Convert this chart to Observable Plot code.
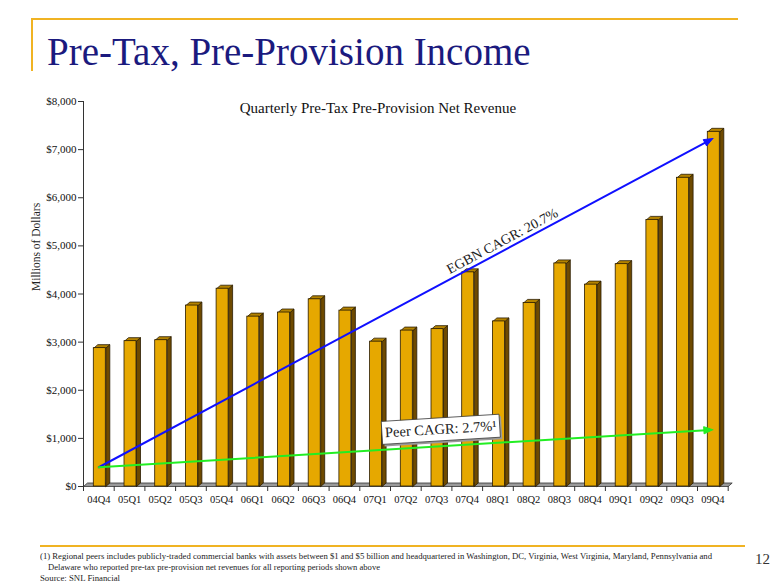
<!DOCTYPE html>
<html><head><meta charset="utf-8">
<script src="https://cdn.jsdelivr.net/npm/d3@7"></script>
<script src="https://cdn.jsdelivr.net/npm/@observablehq/plot@0.6"></script>
<style>
body{margin:0;background:#fff;font-family:"Liberation Serif","Times New Roman",serif;}
#page{position:relative;width:780px;height:585px;overflow:hidden;background:#fff;}
#header{position:relative;height:80px;}
#header .hl{position:absolute;left:31px;top:18px;width:707px;height:2px;background:#F0B323;}
#header .vl{position:absolute;left:31px;top:18px;width:2px;height:53px;background:#F0B323;}
#title{position:absolute;left:47px;top:32px;font-size:39px;line-height:1;color:#1b1a7e;white-space:nowrap;}
#chart{height:460px;}
#footer{position:relative;height:45px;}
#footer .hl{position:absolute;left:40px;top:5px;width:705px;height:2px;background:#F0B323;}
.note{position:absolute;font-size:9px;line-height:10px;color:#222;white-space:nowrap;transform-origin:0 50%;}
#pnum{position:absolute;left:755px;top:12px;font-size:15px;line-height:1;color:#333;}
</style></head><body>
<div id="page">
  <div id="header"><div class="hl"></div><div class="vl"></div><div id="title">Pre-Tax, Pre-Provision Income</div></div>
  <div id="chart"></div>
  <div id="footer">
    <div class="hl"></div>
    <div class="note" id="n1" style="left:40px;top:11px;" data-w="672">(1) Regional peers includes publicly-traded commercial banks with assets between $1 and $5 billion and headquartered in Washington, DC, Virginia, West Virginia, Maryland, Pennsylvania and</div>
    <div class="note" id="n2" style="left:48px;top:22px;" data-w="332">Delaware who reported pre-tax pre-provision net revenues for all reporting periods shown above</div>
    <div class="note" id="n3" style="left:40px;top:33px;" data-w="80">Source: SNL Financial</div>
    <div id="pnum">12</div>
  </div>
</div>
<script>
// ---- data ----
const quarters = ["04Q4","05Q1","05Q2","05Q3","05Q4","06Q1","06Q2","06Q3","06Q4","07Q1","07Q2","07Q3","07Q4","08Q1","08Q2","08Q3","08Q4","09Q1","09Q2","09Q3","09Q4"];
const revenue = [2875,3020,3040,3760,4110,3530,3615,3890,3655,3010,3240,3270,4450,3430,3815,4635,4195,4620,5540,6415,7370];
const trendEnds = ["04Q4","09Q4"];
const egbnTrend = [400,7230];
const peerTrend = [400,1180];
const yTicks = [0,1000,2000,3000,4000,5000,6000,7000,8000];
const chartTitle = "Quarterly Pre-Tax Pre-Provision Net Revenue";
const yLabel = "Millions of Dollars";
const egbnLabel = "EGBN CAGR: 20.7%";
const peerLabel = "Peer CAGR: 2.7%\u00B9";

// ---- layout / style ----
const W=780,H=460,mL=83,mR=52.3,mT=21,mB=54;
const xDomain=[-0.5, quarters.length-0.5];
const yDomain=[0,8000];
const kx=(W-mL-mR)/(xDomain[1]-xDomain[0]);
const ky=(H-mT-mB)/(yDomain[1]-yDomain[0]);
const ux=p=>p/kx, uy=p=>p/ky;
const FACE_L=10.3, FACE_W=12, DEPTH_X=4, DEPTH_Y=3.5;
const dX=ux(DEPTH_X), dY=uy(DEPTH_Y);

const bars = revenue.map((v,i)=>({i,q:quarters[i],v,x1:i-0.5+ux(FACE_L),x2:i-0.5+ux(FACE_L+FACE_W)}));
const tops=[], sides=[];
bars.forEach(b=>{
  [[b.x1,b.v],[b.x2,b.v],[b.x2+dX,b.v+dY],[b.x1+dX,b.v+dY],[b.x1,b.v]].forEach(([x,y])=>tops.push({id:b.i,x,y}));
  [[b.x2,0],[b.x2,b.v],[b.x2+dX,b.v+dY],[b.x2+dX,dY],[b.x2,0]].forEach(([x,y])=>sides.push({id:b.i,x,y}));
});
const floor=[[xDomain[0],0],[xDomain[1],0],[xDomain[1]+dX,dY],[xDomain[0]+dX,dY],[xDomain[0],0]].map(([x,y])=>({x,y}));

function trend(vals, t, off){
  const x0=quarters.indexOf(trendEnds[0]), x1=quarters.indexOf(trendEnds[1]);
  const p0=[x0*kx, vals[0]*ky], p1=[x1*kx, vals[1]*ky];
  const L=Math.hypot(p1[0]-p0[0],p1[1]-p0[1]);
  const u=[(p1[0]-p0[0])/L,(p1[1]-p0[1])/L], n=[-u[1],u[0]];
  const len=9, half=3.6;
  const b=[p1[0]-len*u[0], p1[1]-len*u[1]];
  const toD=([a,c])=>({x:a/kx,y:c/ky});
  const head=[p1,[b[0]+half*n[0],b[1]+half*n[1]],[b[0]-half*n[0],b[1]-half*n[1]],p1].map(toD);
  const line=[p0,[b[0]+2*u[0],b[1]+2*u[1]]].map(toD);
  const c=[p0[0]+t*(p1[0]-p0[0])+off*n[0], p0[1]+t*(p1[1]-p0[1])+off*n[1]];
  const ang=Math.atan2(u[1],u[0]);
  return {line, head, label:toD(c), c, ang, rot:-ang*180/Math.PI};
}
const egbn=trend(egbnTrend,0.664,9);
const peer=trend(peerTrend,0.5586,17);
function box(c,ang,w,h,sx,sy){
  return [[-w/2,-h/2],[w/2,-h/2],[w/2,h/2],[-w/2,h/2],[-w/2,-h/2]].map(([a,b])=>({
    x:(c[0]+sx+a*Math.cos(ang)-b*Math.sin(ang))/kx,
    y:(c[1]+sy+a*Math.sin(ang)+b*Math.cos(ang))/ky}));
}
const peerShadow=box(peer.c,peer.ang,118,23,2,-2);
const peerBox=box(peer.c,peer.ang,118,23,0,0);

const ink="#2a1c00";
const chart = Plot.plot({
  width:W, height:H, marginLeft:mL, marginRight:mR, marginTop:mT, marginBottom:mB,
  x:{type:"linear", domain:xDomain, axis:null},
  y:{type:"linear", domain:yDomain, axis:null},
  style:{fontFamily:'"Liberation Serif","Times New Roman",serif', color:"#111", background:"transparent", overflow:"visible"},
  marks:[
    Plot.line(floor,{x:"x",y:"y",fill:"#9a9a9a",stroke:"#333",strokeWidth:0.8}),
    Plot.line(sides,{x:"x",y:"y",z:"id",fill:"#6e4a00",stroke:ink,strokeWidth:0.8}),
    Plot.line(tops,{x:"x",y:"y",z:"id",fill:"#b48300",stroke:ink,strokeWidth:0.8}),
    Plot.rect(bars,{x1:"x1",x2:"x2",y1:0,y2:"v",fill:"#E6A800",stroke:ink,strokeWidth:0.8}),
    Plot.ruleX([xDomain[0]],{y1:yDomain[0],y2:yDomain[1],stroke:"#333",strokeWidth:1}),
    Plot.axisY({ticks:yTicks,tickSize:5,tickPadding:2,tickFormat:d3.format("$,"),fontSize:11,label:null,stroke:"#333"}),
    Plot.axisX({ticks:d3.range(quarters.length),tickFormat:i=>quarters[i],tickSize:0,tickPadding:9,fontSize:10.5,label:null}),
    Plot.axisX({ticks:d3.range(quarters.length+1).map(i=>i-0.5),tickFormat:()=>"",tickSize:5,label:null,stroke:"#333"}),
    Plot.line(egbn.line,{x:"x",y:"y",stroke:"#1010ff",strokeWidth:2}),
    Plot.line(egbn.head,{x:"x",y:"y",fill:"#1010ff",stroke:"#1010ff",strokeWidth:1}),
    Plot.line(peer.line,{x:"x",y:"y",stroke:"#22ee22",strokeWidth:2}),
    Plot.line(peer.head,{x:"x",y:"y",fill:"#22ee22",stroke:"#22ee22",strokeWidth:1}),
    Plot.text([egbnLabel],{x:egbn.label.x,y:egbn.label.y,rotate:egbn.rot,fontSize:14,fill:"#222",textAnchor:"middle",lineAnchor:"middle"}),
    Plot.line(peerShadow,{x:"x",y:"y",fill:"#9a9a9a",stroke:"none"}),
    Plot.line(peerBox,{x:"x",y:"y",fill:"#fff",stroke:"#333",strokeWidth:0.8}),
    Plot.text([peerLabel],{x:peer.label.x,y:peer.label.y,rotate:peer.rot,fontSize:14.5,fill:"#222",textAnchor:"middle",lineAnchor:"middle"}),
    Plot.text([chartTitle],{frameAnchor:"top",dx:-28,dy:7,fontSize:15,fill:"#111",lineAnchor:"middle"}),
    Plot.text([yLabel],{frameAnchor:"left",dx:-47,dy:-3,rotate:-90,fontSize:11.5,fill:"#222",lineAnchor:"middle"})
  ]
});
document.getElementById("chart").appendChild(chart);
document.querySelectorAll(".note").forEach(el=>{
  const w=el.getBoundingClientRect().width, t=+el.dataset.w;
  if(w>0) el.style.transform=`scaleX(${t/w})`;
});
</script>
</body></html>
